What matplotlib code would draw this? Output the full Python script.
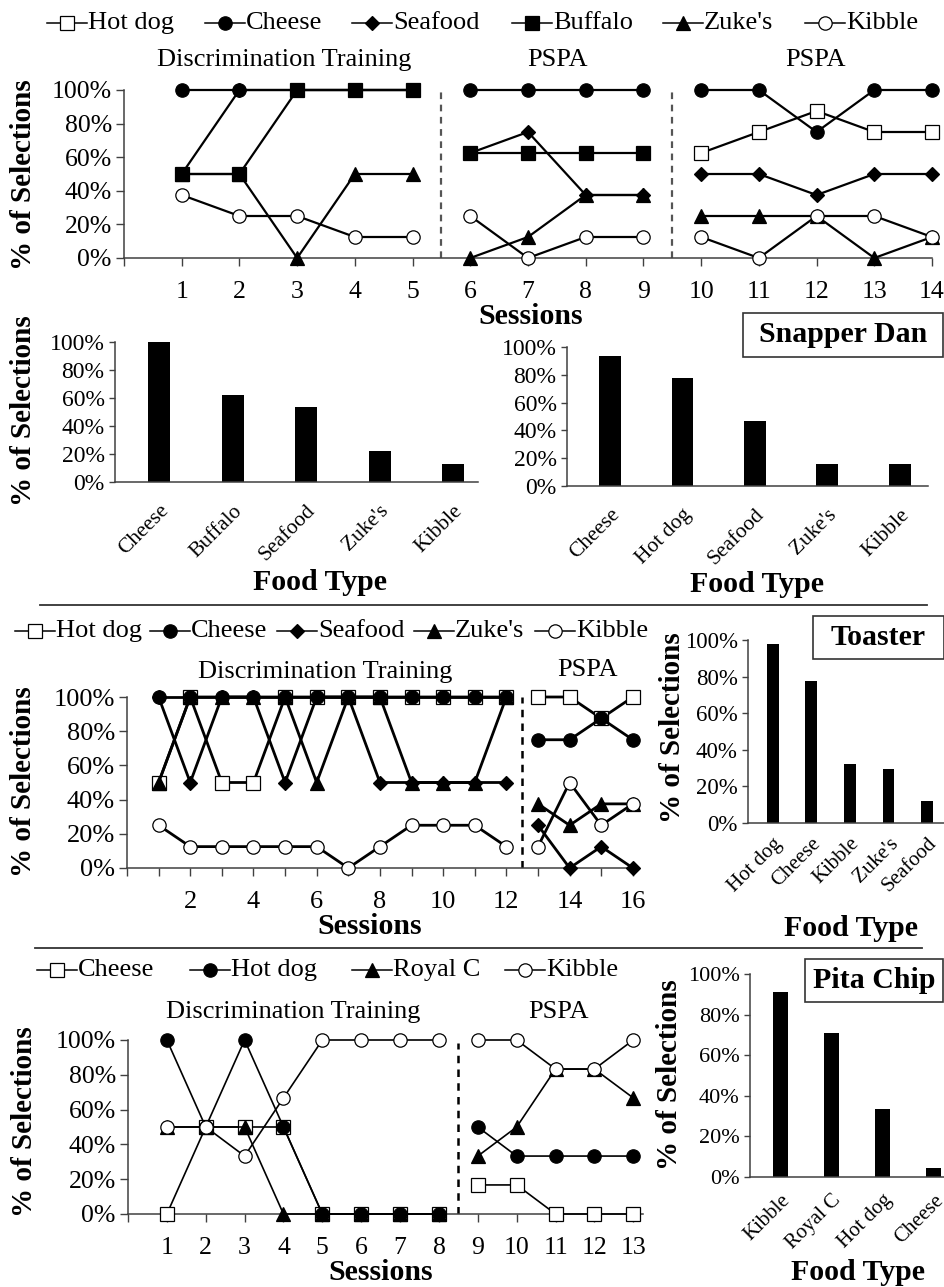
import numpy as np
import matplotlib
matplotlib.use('Agg')
import matplotlib.pyplot as plt
from matplotlib.lines import Line2D
from matplotlib.patches import Rectangle

nan = np.nan

# ---------------- DATA ----------------
# Snapper Dan - line chart (sessions 1-14)
sd_sessions = list(range(1, 15))
sd_phases = [(1, 5), (6, 9), (10, 14)]
sd_hotdog = [nan, nan, nan, nan, nan, nan, nan, nan, nan, 62.5, 75, 87.5, 75, 75]
sd_cheese = [100, 100, 100, 100, 100, 100, 100, 100, 100, 100, 100, 75, 100, 100]
sd_seafood = [50, 100, 100, 100, 100, 62.5, 75, 37.5, 37.5, 50, 50, 37.5, 50, 50]
sd_buffalo = [50, 50, 100, 100, 100, 62.5, 62.5, 62.5, 62.5, nan, nan, nan, nan, nan]
sd_zukes = [50, 50, 0, 50, 50, 0, 12.5, 37.5, 37.5, 25, 25, 25, 0, 12.5]
sd_kibble = [37.5, 25, 25, 12.5, 12.5, 25, 0, 12.5, 12.5, 12.5, 0, 25, 25, 12.5]
sd_phase_titles = ["Discrimination Training", "PSPA", "PSPA"]

# Snapper Dan - bar charts
sd_bar1_labels = ["Cheese", "Buffalo", "Seafood", "Zuke's", "Kibble"]
sd_bar1_values = [100, 62.5, 53.5, 22.2, 12.6]
sd_bar2_labels = ["Cheese", "Hot dog", "Seafood", "Zuke's", "Kibble"]
sd_bar2_values = [93.3, 77.9, 46.8, 15.6, 15.6]

# Toaster - line chart (sessions 1-16)
ts_sessions = list(range(1, 17))
ts_phases = [(1, 12), (13, 16)]
ts_hotdog = [50, 100, 50, 50, 100, 100, 100, 100, 100, 100, 100, 100, 100, 100, 87.5, 100]
ts_cheese = [100, 100, 100, 100, 100, 100, 100, 100, 100, 100, 100, 100, 75, 75, 87.5, 75]
ts_seafood = [100, 50, 100, 100, 50, 100, 100, 50, 50, 50, 50, 50, 25, 0, 12.5, 0]
ts_zukes = [50, 100, 100, 100, 100, 50, 100, 100, 50, 50, 50, 100, 37.5, 25, 37.5, 37.5]
ts_kibble = [25, 12.5, 12.5, 12.5, 12.5, 12.5, 0, 12.5, 25, 25, 25, 12.5, 12.5, 50, 25, 37.5]
ts_phase_titles = ["Discrimination Training", "PSPA"]

# Toaster - bar chart
ts_bar_labels = ["Hot dog", "Cheese", "Kibble", "Zuke's", "Seafood"]
ts_bar_values = [97.8, 77.6, 32.2, 29.5, 12.0]

# Pita Chip - line chart (sessions 1-13)
pc_sessions = list(range(1, 14))
pc_phases = [(1, 8), (9, 13)]
pc_cheese = [0, 50, 50, 50, 0, 0, 0, 0, 16.7, 16.7, 0, 0, 0]
pc_hotdog = [100, 50, 100, 50, 0, 0, 0, 0, 50, 33.3, 33.3, 33.3, 33.3]
pc_royalc = [50, 50, 50, 0, 0, 0, 0, 0, 33.3, 50, 83.3, 83.3, 66.7]
pc_kibble = [50, 50, 33.3, 66.7, 100, 100, 100, 100, 100, 100, 83.3, 83.3, 100]
pc_phase_titles = ["Discrimination Training", "PSPA"]

# Pita Chip - bar chart
pc_bar_labels = ["Kibble", "Royal C", "Hot dog", "Cheese"]
pc_bar_values = [91.0, 70.9, 33.5, 4.4]

percent_ticks = [0, 20, 40, 60, 80, 100]

# ---------------- FIGURE ----------------
W, H = 945, 1287
plt.rcParams['font.family'] = ['Liberation Serif', 'DejaVu Serif']
fig = plt.figure(figsize=(W / 100, H / 100), dpi=100)
AX_COL = '#404040'


def fx(x):
    return x / W


def fy(y):
    return 1 - y / H


def add_ax(x0, x1, yt, yb):
    ax = fig.add_axes([fx(x0), fy(yb), (x1 - x0) / W, (yb - yt) / H])
    for s in ['top', 'right']:
        ax.spines[s].set_visible(False)
    for s in ['left', 'bottom']:
        ax.spines[s].set_color(AX_COL)
        ax.spines[s].set_linewidth(1.1)
    ax.patch.set_alpha(0)
    return ax


MS = {'s': 9.4, 'o': 9.6, 'D': 7.0, '^': 9.6}


def plot_series(ax, x, y, marker, face, lw, z, scale=1.0):
    x = np.asarray(x, float)
    y = np.asarray(y, float)
    ax.plot(x, y, color='black', lw=lw, marker=marker, ms=MS[marker] * scale,
            mfc=face, mec='black', mew=0.9, clip_on=False, zorder=z)


def line_panel(ax, sessions, phases, series, lw, scale=1.0):
    sessions = np.asarray(sessions)
    for (a, b) in phases:
        idx = (sessions >= a) & (sessions <= b)
        for (vals, marker, face, z) in series:
            v = np.asarray(vals, float)[idx]
            if np.all(np.isnan(v)):
                continue
            plot_series(ax, sessions[idx], v, marker, face, lw, z, scale)


def pct_yaxis(ax, fs, length=5.8):
    ax.set_ylim(0, 100)
    ax.set_yticks(percent_ticks)
    ax.set_yticklabels([f"{t}%" for t in percent_ticks], fontsize=fs)
    ax.tick_params(axis='y', direction='out', length=length, width=1.0, color=AX_COL, pad=3)


def leg_item(x0, y, marker, face, label, fs=19, scale=1.0):
    fig.add_artist(Line2D([fx(x0), fx(x0 + 40)], [fy(y), fy(y)], transform=fig.transFigure,
                          color='black', lw=1.1))
    fig.add_artist(Line2D([fx(x0 + 20)], [fy(y)], transform=fig.transFigure, marker=marker,
                          ms=MS[marker] * scale, mfc=face, mec='black', mew=0.9, lw=0))
    fig.text(fx(x0 + 41), fy(y), label, fontsize=fs, ha='left', va='center')


def bold_text(x, y, s, fs=21.5, rot=0):
    fig.text(fx(x), fy(y), s, fontsize=fs, fontweight='bold', ha='center', va='center', rotation=rot)


def boxed(x0, x1, yt, yb, s):
    fig.add_artist(Rectangle((fx(x0), fy(yb)), (x1 - x0) / W, (yb - yt) / H, transform=fig.transFigure,
                             fill=False, ec='#333333', lw=1.2))
    bold_text((x0 + x1) / 2, (yt + yb) / 2, s)


def bar_panel(ax, labels, values, xlim, width, fs_tick, fs_lab, pad=8):
    ax.bar(range(len(values)), values, width=width, color='black')
    ax.set_xlim(*xlim)
    pct_yaxis(ax, fs_tick, length=4.5)
    ax.set_xticks(range(len(labels)))
    ax.set_xticklabels(labels, rotation=45, ha='right', va='top', rotation_mode='anchor', fontsize=fs_lab)
    ax.tick_params(axis='x', length=0, pad=pad)


# ======== Snapper Dan line ========
ax1 = add_ax(124, 932, 90, 258)
line_panel(ax1, sd_sessions, sd_phases, [
    (sd_hotdog, 's', 'white', 3),
    (sd_cheese, 'o', 'black', 4),
    (sd_seafood, 'D', 'black', 5),
    (sd_zukes, '^', 'black', 6),
    (sd_buffalo, 's', 'black', 7),
    (sd_kibble, 'o', 'white', 8),
], lw=1.6)
ax1.set_xlim(0, 14)
pct_yaxis(ax1, 18.5)
ax1.set_xticks(range(0, 15))
ax1.set_xticklabels([''] + [str(s) for s in sd_sessions], fontsize=18.5)
ax1.tick_params(axis='x', direction='out', length=5.8, width=1.0, color=AX_COL, pad=11)
for xv in [5.5, 9.5]:
    ax1.plot([xv, xv], [0, 100], color='#555555', lw=1.6, ls=(0, (3, 2.5)), zorder=1)
for t, cx in zip(sd_phase_titles, [284, 557, 815]):
    fig.text(fx(cx), fy(60), t, fontsize=19, ha='center', va='center')

for x0, m, f, lab in zip([47, 205, 352, 512, 663, 805], ['s', 'o', 'D', 's', '^', 'o'],
                         ['white', 'black', 'black', 'black', 'black', 'white'],
                         ["Hot dog", "Cheese", "Seafood", "Buffalo", "Zuke's", "Kibble"]):
    leg_item(x0, 23, m, f, lab)

bold_text(24, 175, "% of Selections", fs=21, rot=90)
bold_text(531, 316, "Sessions")

# ======== Snapper Dan bars ========
ax2 = add_ax(115, 478, 342, 482)
bar_panel(ax2, sd_bar1_labels, sd_bar1_values, (-0.6, 4.34), 0.3, 17, 15.5, pad=14)
ax3 = add_ax(567, 928, 347, 486)
bar_panel(ax3, sd_bar2_labels, sd_bar2_values, (-0.593, 4.39), 0.3, 17, 15.5, pad=14)
bold_text(24, 411, "% of Selections", fs=21, rot=90)
bold_text(320, 582, "Food Type")
bold_text(757, 585, "Food Type")
boxed(743, 943, 313, 357, "Snapper Dan")

# separator lines
fig.add_artist(Line2D([fx(40), fx(927)], [fy(605), fy(605)], transform=fig.transFigure, color='#333333', lw=1.3))
fig.add_artist(Line2D([fx(35), fx(922)], [fy(948), fy(948)], transform=fig.transFigure, color='#333333', lw=1.3))

# ======== Toaster line ========
ax4 = add_ax(127, 636, 697, 868)
line_panel(ax4, ts_sessions, ts_phases, [
    (ts_hotdog, 's', 'white', 3),
    (ts_cheese, 'o', 'black', 4),
    (ts_seafood, 'D', 'black', 5),
    (ts_zukes, '^', 'black', 6),
    (ts_kibble, 'o', 'white', 8),
], lw=2.0)
ax4.set_xlim(0, 16.1)
pct_yaxis(ax4, 19)
ax4.set_xticks(range(0, 17))
ax4.set_xticklabels(['' if (s % 2 or s == 0) else str(s) for s in range(0, 17)], fontsize=19)
ax4.tick_params(axis='x', direction='out', length=5.8, width=1.0, color=AX_COL, pad=11)
ax4.plot([12.5, 12.5], [0, 100], color='black', lw=1.8, ls=(0, (3, 2.5)), zorder=1)
fig.text(fx(325), fy(672), ts_phase_titles[0], fontsize=19, ha='center', va='center')
fig.text(fx(587), fy(670), ts_phase_titles[1], fontsize=19, ha='center', va='center')
for x0, m, f, lab in zip([15, 150, 277, 414, 535], ['s', 'o', 'D', '^', 'o'],
                         ['white', 'black', 'black', 'black', 'white'],
                         ["Hot dog", "Cheese", "Seafood", "Zuke's", "Kibble"]):
    leg_item(x0, 631, m, f, lab)
bold_text(24, 782, "% of Selections", fs=21, rot=90)
bold_text(370, 927, "Sessions")

# ======== Toaster bars ========
ax5 = add_ax(748, 944, 640, 823)
bar_panel(ax5, ts_bar_labels, ts_bar_values, (-0.645, 4.44), 0.31, 16.5, 15, pad=8)
bold_text(673, 728, "% of Selections", fs=21, rot=90)
bold_text(851, 928, "Food Type")
boxed(813, 944, 616, 659, "Toaster")

# ======== Pita Chip line ========
ax6 = add_ax(128, 643, 1040, 1214)
line_panel(ax6, pc_sessions, pc_phases, [
    (pc_cheese, 's', 'white', 3),
    (pc_hotdog, 'o', 'black', 4),
    (pc_royalc, '^', 'black', 5),
    (pc_kibble, 'o', 'white', 8),
], lw=1.2)
ax6.set_xlim(0, 13.25)
pct_yaxis(ax6, 18.5)
ax6.set_xticks(range(0, 14))
ax6.set_xticklabels([''] + [str(s) for s in pc_sessions], fontsize=18.5)
ax6.tick_params(axis='x', direction='out', length=5.8, width=1.0, color=AX_COL, pad=11)
ax6.plot([8.5, 8.5], [0, 98], color='black', lw=1.8, ls=(0, (3, 2.5)), zorder=1)
fig.text(fx(293), fy(1012), pc_phase_titles[0], fontsize=19, ha='center', va='center')
fig.text(fx(558), fy(1012), pc_phase_titles[1], fontsize=19, ha='center', va='center')
for x0, m, f, lab in zip([37, 190, 352, 505], ['s', 'o', '^', 'o'],
                         ['white', 'black', 'black', 'white'],
                         ["Cheese", "Hot dog", "Royal C", "Kibble"]):
    leg_item(x0, 970, m, f, lab)
bold_text(25, 1122, "% of Selections", fs=21, rot=90)
bold_text(381, 1272, "Sessions")

# ======== Pita Chip bars ========
ax7 = add_ax(750, 944, 974, 1177)
bar_panel(ax7, pc_bar_labels, pc_bar_values, (-0.6, 3.2), 0.29, 16, 15, pad=10)
bold_text(670, 1075, "% of Selections", fs=21, rot=90)
bold_text(858, 1273, "Food Type")
boxed(805, 943, 959, 1002, "Pita Chip")

fig.savefig('out.png', dpi=100)
